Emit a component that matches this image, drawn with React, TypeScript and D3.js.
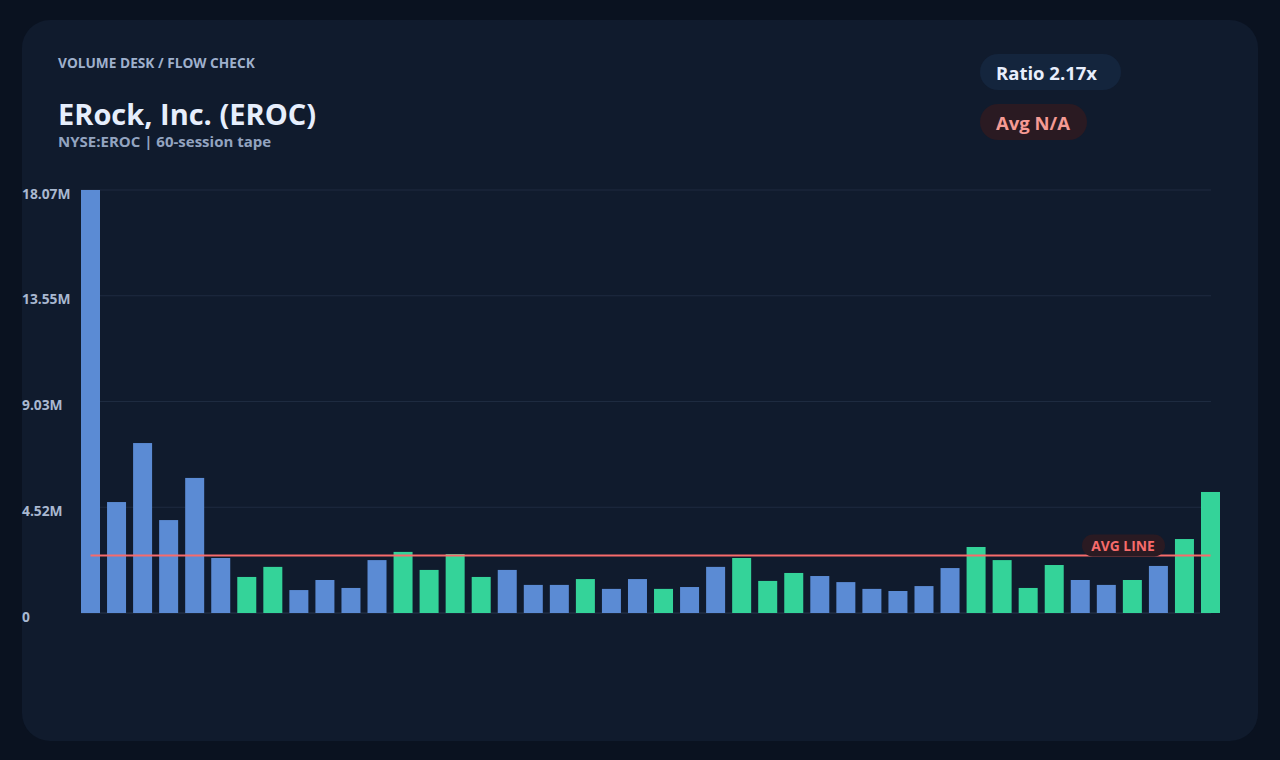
import React, { useEffect, useRef } from "react";
import * as d3 from "d3";

// daily volume in millions, oldest -> newest
const volumes = [
  18.07, 4.74, 7.26, 3.97, 5.77, 2.35, 1.54, 1.97, 0.98, 1.41, 1.07, 2.26, 2.61, 1.84, 2.52,
  1.54, 1.84, 1.2, 1.2, 1.45, 1.03, 1.45, 1.03, 1.11, 1.97, 2.35, 1.37, 1.71, 1.58, 1.32,
  1.03, 0.94, 1.15, 1.92, 2.82, 2.26, 1.07, 2.05, 1.41, 1.2, 1.41, 2.01, 3.16, 5.17,
];
// true = up session (green), false = down session (blue)
const upDays = [
  false, false, false, false, false, false, true, true, false, false, false, false, true, true, true,
  true, false, false, false, true, false, false, true, false, false, true, true, true, false, false,
  false, false, false, false, true, true, true, true, false, false, true, false, true, true,
];
const tickLabels = ["0", "4.52M", "9.03M", "13.55M", "18.07M"];

const W = 1280;
const H = 760;
const FONT = "'Open Sans', 'Noto Sans', sans-serif";

const App: React.FC = () => {
  const svgRef = useRef<SVGSVGElement>(null);

  useEffect(() => {
    if (!svgRef.current) return;
    const svg = d3.select(svgRef.current);
    svg.selectAll("*").remove();

    const plot = { left: 81, right: 1211, top: 190, bottom: 613 };
    const barWidth = 19;
    const idx = volumes.map((_, i) => i);
    const maxV = d3.max(volumes) as number;

    const x = d3
      .scalePoint<number>()
      .domain(idx)
      .range([plot.left + barWidth / 2, plot.right - 0.5]);
    const y = d3.scaleLinear().domain([0, maxV]).range([plot.bottom, plot.top]);
    const avg = d3.mean(volumes) as number;

    // background + card
    svg.append("rect").attr("width", W).attr("height", H).attr("fill", "#0a1220");
    svg
      .append("rect")
      .attr("x", 22)
      .attr("y", 20)
      .attr("width", 1236)
      .attr("height", 721)
      .attr("rx", 28)
      .attr("fill", "#101b2d");

    // header text
    svg
      .append("text")
      .attr("x", 58)
      .attr("y", 68)
      .attr("font-family", FONT)
      .attr("font-size", 13.7)
      .attr("font-weight", 700)
      .attr("fill", "#9fb0cc")
      .text("VOLUME DESK / FLOW CHECK");
    svg
      .append("text")
      .attr("x", 58)
      .attr("y", 124.5)
      .attr("font-family", FONT)
      .attr("font-size", 29)
      .attr("font-weight", 700)
      .attr("fill", "#e6eefc")
      .text("ERock, Inc. (EROC)");
    svg
      .append("text")
      .attr("x", 58)
      .attr("y", 146.5)
      .attr("font-family", FONT)
      .attr("font-size", 15)
      .attr("font-weight", 700)
      .attr("fill", "#93a4c0")
      .text("NYSE:EROC | 60-session tape");

    // pills
    const pills = [
      { label: "Ratio 2.17x", y: 54, w: 141, bg: "#14253d", fg: "#e8eefc" },
      { label: "Avg N/A", y: 104, w: 107, bg: "#2a1a22", fg: "#f59a94" },
    ];
    pills.forEach((p) => {
      svg
        .append("rect")
        .attr("x", 980)
        .attr("y", p.y)
        .attr("width", p.w)
        .attr("height", 36)
        .attr("rx", 18)
        .attr("fill", p.bg);
      svg
        .append("text")
        .attr("x", 996)
        .attr("y", p.y + 18)
        .attr("dominant-baseline", "central")
        .attr("font-family", FONT)
        .attr("font-size", 18.5)
        .attr("font-weight", 700)
        .attr("fill", p.fg)
        .text(p.label);
    });

    // grid
    const ticks = d3.range(0, 5).map((i) => (maxV * i) / 4);
    const g = svg.append("g");
    g.selectAll("line.grid")
      .data(ticks)
      .join("line")
      .attr("class", "grid")
      .attr("x1", plot.left)
      .attr("x2", plot.right)
      .attr("y1", (d) => y(d))
      .attr("y2", (d) => y(d))
      .attr("stroke", (d, i) => (i === 0 ? "#26344b" : "#1e2b40"))
      .attr("stroke-width", 1);

    g.selectAll("text.tick")
      .data(ticks)
      .join("text")
      .attr("class", "tick")
      .attr("x", 22)
      .attr("y", (d) => y(d) + 3)
      .attr("dominant-baseline", "central")
      .attr("font-family", FONT)
      .attr("font-size", 13.8)
      .attr("font-weight", 700)
      .attr("fill", "#a9b8d0")
      .text((_, i) => tickLabels[i]);

    // bars
    g.selectAll("rect.bar")
      .data(idx)
      .join("rect")
      .attr("class", "bar")
      .attr("x", (i) => (x(i) as number) - barWidth / 2)
      .attr("y", (i) => y(volumes[i]))
      .attr("width", barWidth)
      .attr("height", (i) => plot.bottom - y(volumes[i]))
      .attr("fill", (i) => (upDays[i] ? "#34d399" : "#5b8bd4"));

    // average line
    const ay = y(avg);
    g.append("line")
      .attr("x1", x(0) as number)
      .attr("x2", x(idx.length - 1) as number)
      .attr("y1", ay)
      .attr("y2", ay)
      .attr("stroke", "#f76b6b")
      .attr("stroke-width", 2);

    const lbl = g.append("g").attr("transform", `translate(1123,${ay - 10})`);
    lbl
      .append("rect")
      .attr("x", -41)
      .attr("y", -11)
      .attr("width", 83)
      .attr("height", 22)
      .attr("rx", 11)
      .attr("fill", "#2a1a22");
    lbl
      .append("text")
      .attr("text-anchor", "middle")
      .attr("dominant-baseline", "central")
      .attr("font-family", FONT)
      .attr("font-size", 13.8)
      .attr("font-weight", 700)
      .attr("fill", "#f76b6b")
      .text("AVG LINE");
  }, []);

  return (
    <svg
      ref={svgRef}
      width={W}
      height={H}
      style={{ position: "absolute", left: 0, top: 0 }}
    />
  );
};

export default App;
